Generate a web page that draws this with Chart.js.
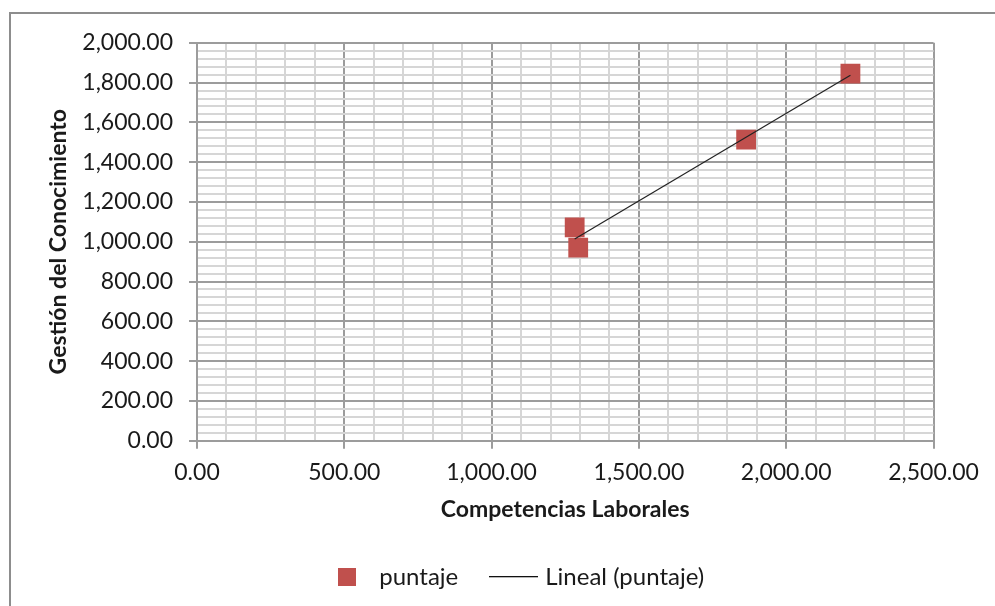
<!DOCTYPE html>
<html>
<head>
<meta charset="utf-8">
<script src="https://cdn.jsdelivr.net/npm/chart.js@4.4.1/dist/chart.umd.min.js"></script>
<style>
  html, body { margin: 0; padding: 0; background: #fff; width: 995px; height: 606px; overflow: hidden; }
  #frame { position: absolute; left: 9px; top: 12px; width: 1040px; height: 620px; border: 2px solid #8d8d8d; box-sizing: border-box; }
  #chart { position: absolute; left: 10px; top: 13px; width: 1022px; height: 593px; }
</style>
</head>
<body>
<div id="frame"></div>
<canvas id="chart" width="1022" height="593"></canvas>
<script>
// Puntajes: Competencias Laborales (x) vs Gestión del Conocimiento (y)
const competencias = [1282, 1294, 1864, 2218];
const gestion = [1072, 970, 1513, 1845];

const seriesLabel = 'puntaje';
const trendLabel = 'Lineal (puntaje)';
const xTitle = 'Competencias Laborales';
const yTitle = 'Gestión del Conocimiento';

const xMin = 0, xMax = 2500, xMajor = 500, xMinor = 100;
const yMin = 0, yMax = 2000, yMajor = 200, yMinor = 40;

const markerColor = '#C0504D';
const majorGrid = '#9c9c9c';
const minorGrid = '#d6d6d6';
const textColor = '#1a1a1a';

// least-squares linear trend over the plotted points
function linearFit(xs, ys) {
  const n = xs.length;
  const mx = xs.reduce((a, b) => a + b, 0) / n;
  const my = ys.reduce((a, b) => a + b, 0) / n;
  let sxy = 0, sxx = 0;
  for (let i = 0; i < n; i++) {
    sxy += (xs[i] - mx) * (ys[i] - my);
    sxx += (xs[i] - mx) * (xs[i] - mx);
  }
  const slope = sxy / sxx;
  return { slope, intercept: my - slope * mx };
}
const fit = linearFit(competencias, gestion);
const trendX = [Math.min(...competencias), Math.max(...competencias)];
const trendPoints = trendX.map(x => ({ x, y: fit.intercept + fit.slope * x }));

const points = competencias.map((x, i) => ({ x, y: gestion[i] }));

// legend swatches: a filled square for the series, a short rule for the trend
const swatchSquare = document.createElement('canvas');
swatchSquare.width = 18; swatchSquare.height = 18;
(function () { const c = swatchSquare.getContext('2d'); c.fillStyle = markerColor; c.fillRect(0, 0, 18, 18); })();
const swatchLine = document.createElement('canvas');
swatchLine.width = 49; swatchLine.height = 2;
(function () { const c = swatchLine.getContext('2d'); c.fillStyle = '#111'; c.fillRect(0, 0, 49, 1.3); })();
const swatches = [swatchSquare, swatchLine];

const fmt = v => v.toLocaleString('en-US', { minimumFractionDigits: 2, maximumFractionDigits: 2 });
const tickFont = { family: 'Lato', size: 23 };
const legendFont = { family: 'Lato', size: 24 };
const titleFont = { family: 'Lato', size: 23, weight: 'bold' };

new Chart(document.getElementById('chart'), {
  type: 'scatter',
  data: {
    datasets: [
      {
        label: seriesLabel,
        data: points,
        pointStyle: 'rect',
        pointRadius: 14,
        pointHoverRadius: 14,
        backgroundColor: markerColor,
        borderColor: markerColor,
        borderWidth: 0,
        order: 1
      },
      {
        label: trendLabel,
        type: 'line',
        data: trendPoints,
        showLine: true,
        borderColor: '#222',
        borderWidth: 1.2,
        pointRadius: 0,
        fill: false,
        order: 0
      }
    ]
  },
  options: {
    responsive: false,
    animation: false,
    devicePixelRatio: 1,
    layout: { padding: { left: 31, right: 41.5, top: 27.7, bottom: 7 } },
    plugins: {
      tooltip: { enabled: false },
      legend: {
        position: 'bottom',
        labels: {
          usePointStyle: true,
          pointStyleWidth: 40,
          padding: 35,
          color: textColor,
          font: legendFont,
          sort: (a, b) => a.datasetIndex - b.datasetIndex,
          generateLabels(chart) {
            const items = Chart.defaults.plugins.legend.labels.generateLabels(chart);
            items.forEach(it => { it.pointStyle = swatches[it.datasetIndex]; });
            return items;
          }
        }
      }
    },
    scales: {
      x: {
        type: 'linear',
        min: xMin, max: xMax,
        afterFit(scale) { scale.height = 89.3; scale.paddingRight = 1022 - 923.5; },
        ticks: {
          stepSize: xMinor,
          autoSkip: false,
          maxRotation: 0,
          padding: 10,
          color: textColor,
          font: tickFont,
          callback: v => (v % xMajor === 0 ? fmt(v) : '')
        },
        grid: {
          color: c => (c.tick && c.tick.value % xMajor === 0 ? majorGrid : minorGrid),
          lineWidth: 2,
          tickLength: 8,
          tickColor: c => (c.tick && c.tick.value % xMajor === 0 ? majorGrid : 'rgba(0,0,0,0)'),
          tickWidth: 2
        },
        border: { color: majorGrid, width: 2 },
        title: { display: true, text: xTitle, color: textColor, font: titleFont, padding: { top: 4, bottom: 6.2 } }
      },
      y: {
        type: 'linear',
        min: yMin, max: yMax,
        afterFit(scale) { scale.width = 156; },
        ticks: {
          stepSize: yMinor,
          autoSkip: false,
          padding: 16,
          color: textColor,
          font: tickFont,
          callback: v => (v % yMajor === 0 ? fmt(v) : '')
        },
        grid: {
          color: c => (c.tick && c.tick.value % yMajor === 0 ? majorGrid : minorGrid),
          lineWidth: 2,
          tickLength: 8,
          tickColor: c => (c.tick && c.tick.value % yMajor === 0 ? majorGrid : 'rgba(0,0,0,0)'),
          tickWidth: 2
        },
        border: { color: majorGrid, width: 2 },
        title: { display: true, text: yTitle, color: textColor, font: titleFont, padding: { top: 4, bottom: 4 } }
      }
    }
  }
});
</script>
</body>
</html>
